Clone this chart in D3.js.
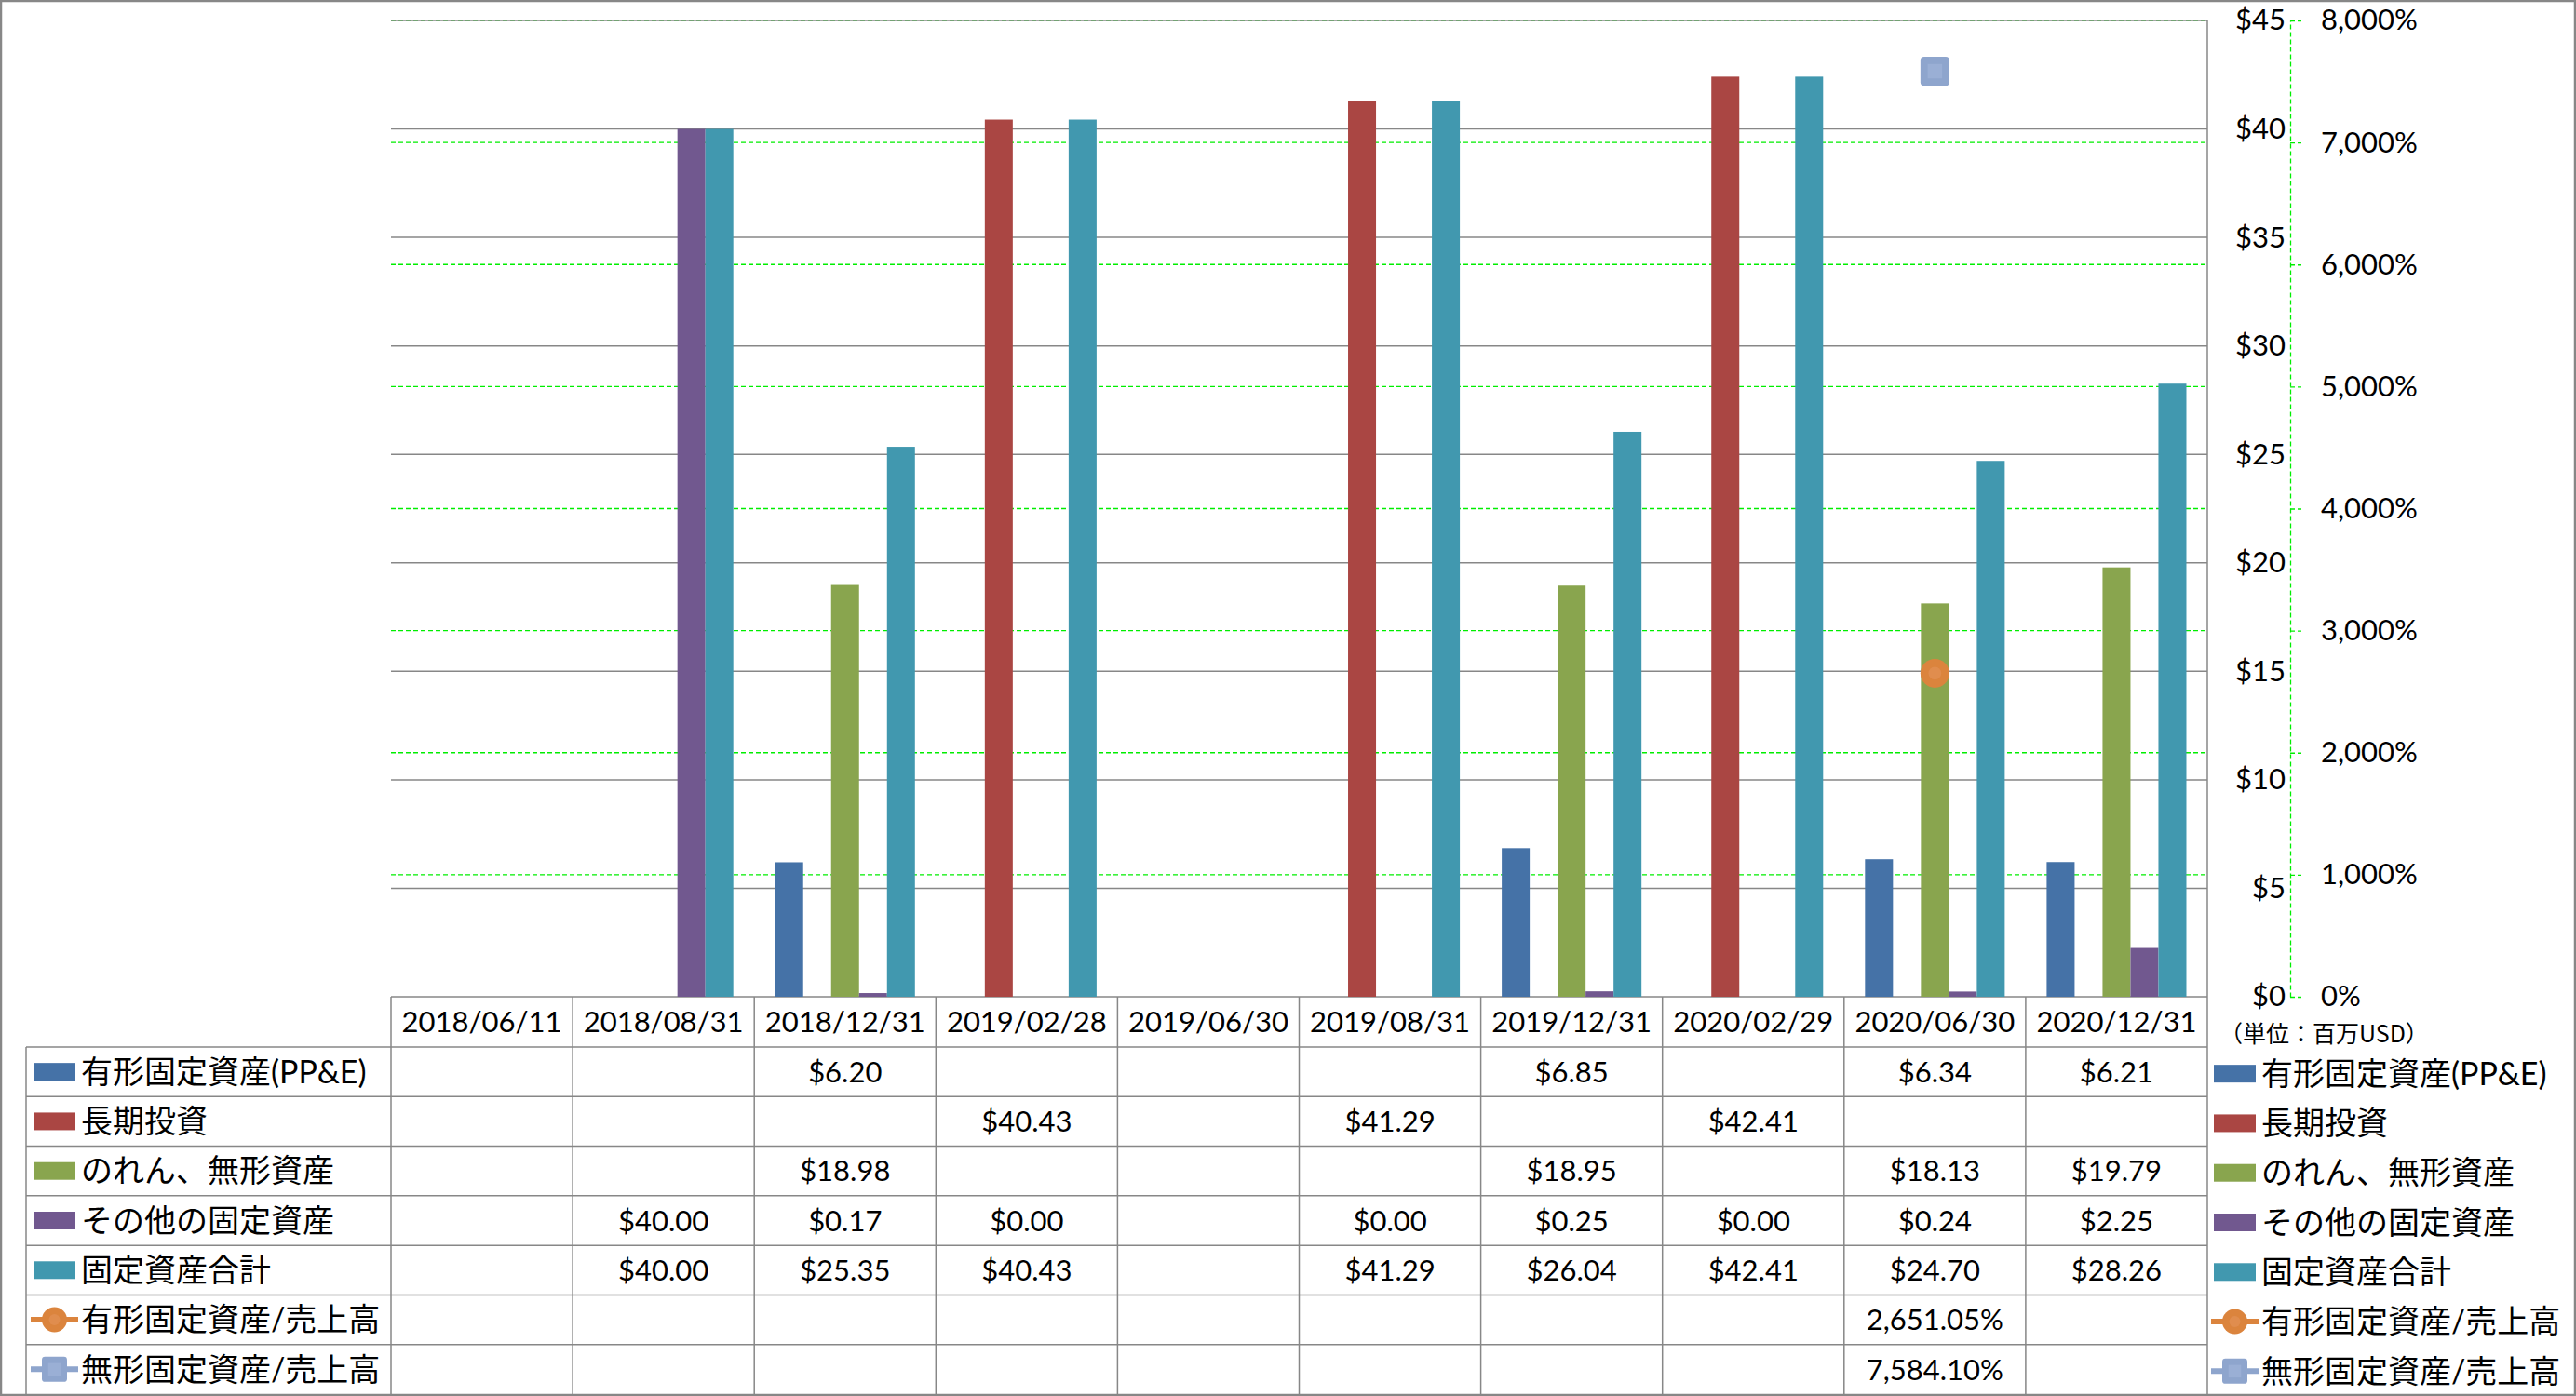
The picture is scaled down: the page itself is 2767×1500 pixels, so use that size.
<!DOCTYPE html>
<meta charset="utf-8">
<title>固定資産</title>
<style>
  body { margin: 0; background: #fff; }
  text { font-family: Lato, "Noto Sans CJK JP", sans-serif; fill: #000; }
  .num { font-size: 31px; }
  .leg { font-size: 34px; }
  .unit { font-size: 25px; font-family: "Noto Sans CJK JP", sans-serif; }
</style>
<script src="https://d3js.org/d3.v7.min.js"></script>
<div id="chart"></div>
<script>
// categories
var dates = ["2018/06/11", "2018/08/31", "2018/12/31", "2019/02/28", "2019/06/30",
             "2019/08/31", "2019/12/31", "2020/02/29", "2020/06/30", "2020/12/31"];

// bar series (百万USD)
var ppe        = [null, null, 6.20, null, null, null, 6.85, null, 6.34, 6.21];
var ltInvest   = [null, null, null, 40.43, null, 41.29, null, 42.41, null, null];
var goodwill   = [null, null, 18.98, null, null, null, 18.95, null, 18.13, 19.79];
var otherFixed = [null, 40.00, 0.17, 0.00, null, 0.00, 0.25, 0.00, 0.24, 2.25];
var totalFixed = [null, 40.00, 25.35, 40.43, null, 41.29, 26.04, 42.41, 24.70, 28.26];

// line series (%)
var ppeToSales    = [null, null, null, null, null, null, null, null, 2651.05, null];
var intangToSales = [null, null, null, null, null, null, null, null, 7584.10, null];

// tick values
var dollarTicks = [0, 5, 10, 15, 20, 25, 30, 35, 40, 45];
var pctTicks = [0, 1000, 2000, 3000, 4000, 5000, 6000, 7000, 8000];

var barSeries = [
  {name: "有形固定資産(PP&E)", values: ppe, color: "#4572A7"},
  {name: "長期投資", values: ltInvest, color: "#AA4643"},
  {name: "のれん、無形資産", values: goodwill, color: "#89A54E"},
  {name: "その他の固定資産", values: otherFixed, color: "#71588F"},
  {name: "固定資産合計", values: totalFixed, color: "#4198AF"}
];
var lineSeries = [
  {name: "有形固定資産/売上高", values: ppeToSales, color: "#DB843D", inner: "#E3925A", shape: "circle"},
  {name: "無形固定資産/売上高", values: intangToSales, color: "#8EA5CD", inner: "#9AAFD5", shape: "square"}
];

var W = 2767, H = 1500;
var plot = {left: 420, right: 2371, top: 22, bottom: 1071};
var tableLeft = 28, tableBottom = 1498, headerBottom = 1125;
var gray = "#878787";

var svg = d3.select("#chart").append("svg")
    .attr("width", W)
    .attr("height", H);

var x = d3.scaleBand().domain(dates).range([plot.left, plot.right]);
var xs = d3.scaleBand().domain(barSeries.map(function(s) { return s.name; }))
    .range([0, x.bandwidth()]).paddingOuter(0.75);
var y = d3.scaleLinear().domain([0, 45]).range([plot.bottom, plot.top]);
var y2 = d3.scaleLinear().domain([0, 8000]).range([plot.bottom, plot.top]);

// green dashed gridlines (secondary axis)
svg.append("g").selectAll("line")
  .data(pctTicks.filter(function(d) { return d > 0; }))
  .enter().append("line")
    .attr("x1", plot.left).attr("x2", plot.right)
    .attr("y1", function(d) { return y2(d); })
    .attr("y2", function(d) { return y2(d); })
    .attr("stroke", "#00ee00")
    .attr("stroke-width", 1.3)
    .attr("stroke-dasharray", "5,3");

// gray gridlines (primary axis)
svg.append("g").selectAll("line")
  .data(dollarTicks)
  .enter().append("line")
    .attr("x1", plot.left).attr("x2", plot.right)
    .attr("y1", function(d) { return y(d); })
    .attr("y2", function(d) { return y(d); })
    .attr("stroke", gray)
    .attr("stroke-width", 1.5);

// bars
barSeries.forEach(function(s) {
  svg.append("g").selectAll("rect")
    .data(dates.map(function(d, i) { return {date: d, v: s.values[i]}; })
      .filter(function(d) { return d.v != null && d.v > 0; }))
    .enter().append("rect")
      .attr("x", function(d) { return x(d.date) + xs(s.name); })
      .attr("width", xs.bandwidth())
      .attr("y", function(d) { return y(d.v); })
      .attr("height", function(d) { return y(0) - y(d.v); })
      .attr("fill", s.color);
});

// line series with markers
function marker(g, shape, size, color, inner) {
  if (shape == "circle") {
    g.append("circle").attr("r", size / 2).attr("fill", color);
    g.append("circle").attr("r", size / 4.5).attr("fill", inner).attr("opacity", 0.6);
  } else {
    g.append("rect").attr("x", -size / 2).attr("y", -size / 2)
      .attr("width", size).attr("height", size).attr("rx", size / 8)
      .attr("fill", color);
    g.append("rect").attr("x", -size / 4).attr("y", -size / 4)
      .attr("width", size / 2).attr("height", size / 2)
      .attr("fill", inner);
  }
}

var line = d3.line()
    .defined(function(d) { return d.v != null; })
    .x(function(d) { return x(d.date) + x.bandwidth() / 2; })
    .y(function(d) { return y2(d.v); });

lineSeries.forEach(function(s) {
  var pts = dates.map(function(d, i) { return {date: d, v: s.values[i]}; });
  svg.append("path").datum(pts)
    .attr("d", line)
    .attr("fill", "none")
    .attr("stroke", s.color)
    .attr("stroke-width", 6);
  pts.filter(function(d) { return d.v != null; }).forEach(function(d) {
    var g = svg.append("g")
      .attr("transform", "translate(" + (x(d.date) + x.bandwidth() / 2) + "," + y2(d.v) + ")");
    marker(g, s.shape, 31, s.color, s.inner);
  });
});

// primary axis line on the right
svg.append("line")
  .attr("x1", plot.right).attr("x2", plot.right)
  .attr("y1", plot.top).attr("y2", tableBottom)
  .attr("stroke", gray).attr("stroke-width", 1.5);

// primary axis labels ($)
var yAxis = svg.append("g")
  .attr("transform", "translate(2460,0)")
  .call(d3.axisLeft(y).tickValues(dollarTicks).tickSize(0).tickPadding(5)
    .tickFormat(function(d) { return "$" + d; }));
yAxis.select(".domain").remove();
yAxis.selectAll("text").attr("class", "num").attr("font-family", null).attr("font-size", null);

// secondary axis (%)
var y2Axis = svg.append("g")
  .attr("transform", "translate(2460,0)")
  .call(d3.axisRight(y2).tickValues(pctTicks).tickSizeInner(12).tickSizeOuter(0).tickPadding(21)
    .tickFormat(function(d) { return d3.format(",")(d) + "%"; }));
y2Axis.select(".domain").attr("stroke", "#00ee00").attr("stroke-width", 1.3).attr("stroke-dasharray", "5,3");
y2Axis.selectAll(".tick line").attr("stroke", "#00ee00").attr("stroke-width", 1.3).attr("stroke-dasharray", "5,3");
y2Axis.selectAll("text").attr("class", "num").attr("font-family", null).attr("font-size", null);

svg.append("text")
  .attr("class", "unit")
  .attr("x", 2384).attr("y", 1111)
  .attr("dy", "0.35em")
  .text("（単位：百万USD）");

// data table
var rowNames = barSeries.concat(lineSeries);
var rowY = d3.scaleBand().domain(rowNames.map(function(s) { return s.name; }))
    .range([headerBottom, tableBottom]);
var table = svg.append("g");

// horizontal rules
table.selectAll("line.h")
  .data(rowNames)
  .enter().append("line")
    .attr("x1", tableLeft).attr("x2", plot.right)
    .attr("y1", function(s) { return rowY(s.name); })
    .attr("y2", function(s) { return rowY(s.name); })
    .attr("stroke", gray).attr("stroke-width", 1.5);

// vertical rules
table.selectAll("line.v")
  .data(dates)
  .enter().append("line")
    .attr("x1", function(d) { return x(d); })
    .attr("x2", function(d) { return x(d); })
    .attr("y1", plot.bottom).attr("y2", tableBottom)
    .attr("stroke", gray).attr("stroke-width", 1.5);
table.append("line")
  .attr("x1", tableLeft).attr("x2", tableLeft)
  .attr("y1", headerBottom).attr("y2", tableBottom)
  .attr("stroke", gray).attr("stroke-width", 1.5);

// header dates
table.selectAll("text.date")
  .data(dates)
  .enter().append("text")
    .attr("class", "num")
    .attr("x", function(d) { return x(d) + x.bandwidth() / 2; })
    .attr("y", (plot.bottom + headerBottom) / 2)
    .attr("dy", "0.36em")
    .attr("text-anchor", "middle")
    .text(function(d) { return d; });

var fmtDollar = function(v) { return "$" + v.toFixed(2); };
var fmtPct = function(v) { return d3.format(",.2f")(v) + "%"; };

// cell values
rowNames.forEach(function(s, r) {
  var isPct = r >= barSeries.length;
  var cy = rowY(s.name) + rowY.bandwidth() / 2;
  table.append("g").selectAll("text")
    .data(dates.map(function(d, i) { return {date: d, v: s.values[i]}; })
      .filter(function(d) { return d.v != null; }))
    .enter().append("text")
      .attr("class", "num")
      .attr("x", function(d) { return x(d.date) + x.bandwidth() / 2; })
      .attr("y", cy)
      .attr("dy", "0.36em")
      .attr("text-anchor", "middle")
      .text(function(d) { return isPct ? fmtPct(d.v) : fmtDollar(d.v); });
});

// legend keys (in table and on the right)
function legendKey(x0, cy, s, isLine) {
  if (!isLine) {
    svg.append("rect")
      .attr("x", x0).attr("y", cy - 9.5)
      .attr("width", 45).attr("height", 19)
      .attr("fill", s.color);
  } else {
    svg.append("line")
      .attr("x1", x0 - 3).attr("x2", x0 + 48)
      .attr("y1", cy).attr("y2", cy)
      .attr("stroke", s.color).attr("stroke-width", 6);
    var g = svg.append("g").attr("transform", "translate(" + (x0 + 22.5) + "," + cy + ")");
    marker(g, s.shape, 27, s.color, s.inner);
  }
  svg.append("text")
    .attr("class", "leg")
    .attr("x", x0 + 51).attr("y", cy)
    .attr("dy", "0.36em")
    .text(s.name);
}

rowNames.forEach(function(s, r) {
  var cy = rowY(s.name) + rowY.bandwidth() / 2;
  var isLine = r >= barSeries.length;
  legendKey(36, cy, s, isLine);
  legendKey(2378, cy + 2, s, isLine);
});

// outer border
svg.append("rect")
  .attr("x", 1).attr("y", 1)
  .attr("width", W - 2).attr("height", H - 2)
  .attr("fill", "none")
  .attr("stroke", gray).attr("stroke-width", 2.5);
</script>
